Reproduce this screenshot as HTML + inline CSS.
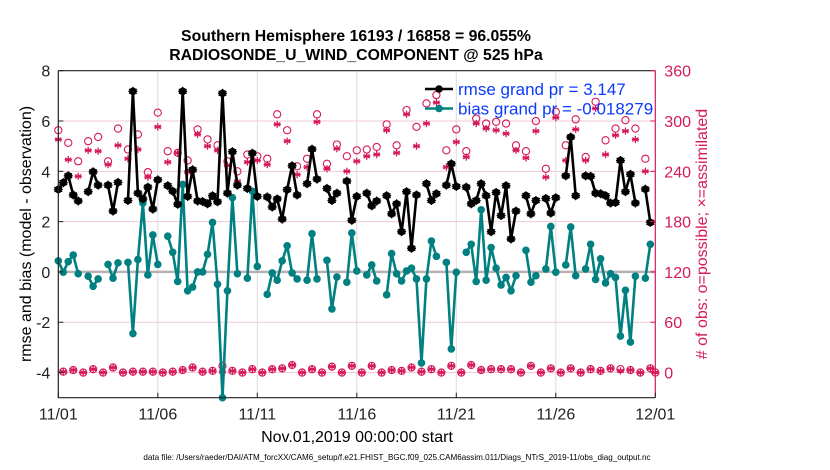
<!DOCTYPE html>
<html><head><meta charset="utf-8"><style>
html,body{margin:0;padding:0;background:#fff;}
svg{display:block;font-family:"Liberation Sans",Arial,sans-serif;}
</style></head><body>
<svg id="chart" width="830" height="470" viewBox="0 0 830 470">
<g id="grid"></g>
<g id="marks"></g>
<g id="axes"></g>
<text x="356" y="41" text-anchor="middle" font-size="15.8" font-weight="bold">Southern Hemisphere 16193 / 16858 = 96.055%</text>
<text x="356" y="60" text-anchor="middle" font-size="15.8" font-weight="bold">RADIOSONDE_U_WIND_COMPONENT @ 525 hPa</text>
<text transform="translate(31,234) rotate(-90)" text-anchor="middle" font-size="16">rmse and bias (model - observation)</text>
<text transform="translate(707,234) rotate(-90)" text-anchor="middle" font-size="16" fill="#d6195a"># of obs: o=possible; ×=assimilated</text>
<text x="357" y="442" text-anchor="middle" font-size="16">Nov.01,2019 00:00:00 start</text>
<text x="397" y="460" text-anchor="middle" font-size="8.1">data file: /Users/raeder/DAI/ATM_forcXX/CAM6_setup/f.e21.FHIST_BGC.f09_025.CAM6assim.011/Diags_NTrS_2019-11/obs_diag_output.nc</text>
<g id="legend"></g>
</svg>
<script>
const xTickLabels = ["11/01","11/06","11/11","11/16","11/21","11/26","12/01"];
const yTicks = [8,6,4,2,0,-2,-4];
const y2Ticks = [360,300,240,180,120,60,0];
const N = null;
const rmse = [3.28,3.55,3.82,3.06,2.82,N,3.19,3.98,3.45,N,3.45,2.42,3.56,N,2.84,7.18,3.13,2.9,3.37,2.5,3.66,N,3.43,3.21,2.69,7.18,3.0,4.06,2.82,2.8,2.71,3.03,2.79,7.1,3.13,4.78,3.45,N,3.32,4.72,3.0,N,2.98,2.58,2.90,2.10,3.27,4.22,3.06,N,3.51,4.88,3.69,N,3.32,2.84,3.13,N,3.61,2.05,3.0,N,3.13,2.63,2.82,N,3.03,2.31,2.71,1.6,3.19,0.94,3.06,N,3.51,2.84,3.11,N,3.45,4.30,3.40,N,3.37,2.71,2.84,3.51,3.03,1.60,3.16,2.24,3.43,1.31,2.42,N,3.03,2.31,2.84,N,2.92,2.34,2.95,N,3.82,5.36,3.03,N,3.82,3.80,3.13,3.11,3.03,2.74,2.76,4.43,3.19,3.88,2.74,N,3.29,1.97,N];
const bias = [0.44,-0.01,0.41,0.67,-0.07,N,-0.17,-0.57,-0.28,N,0.30,-0.25,0.36,N,0.38,-2.45,0.49,2.74,-0.12,1.47,0.30,N,1.42,0.78,-0.38,3.48,-0.75,-0.60,0,0,0.70,1.97,-0.49,-5.0,-0.75,2.95,-0.07,N,-0.25,3.21,0.22,N,-0.89,-0.04,-0.33,0.44,1.04,-0.04,-0.28,N,-0.33,1.52,-0.28,N,0.46,-1.47,-0.20,N,-0.41,1.55,0.04,N,-0.12,0.28,-0.36,N,-0.91,0.73,-0.07,-0.36,0.04,0.15,-0.28,-3.62,-0.28,1.23,0.62,N,0.38,-3.06,-0.01,N,0.78,1.10,-0.38,2.47,-0.33,0.97,0.15,-0.52,-0.22,-0.75,-0.15,N,0.86,-0.41,-0.15,N,0.12,1.81,-0.01,N,0.28,1.79,-0.15,N,0.12,1.10,-0.30,0.52,-0.44,-0.07,-0.22,-2.55,-0.73,-2.79,-0.17,N,-0.25,1.10,N];
const possible = [289,1,274,3,252,0,276,4,281,0,252,6,291,0,266,1,284,1,239,1,310,0,264,1,262,3,253,6,290,1,278,2,271,8,252,2,240,0,260,4,258,0,255,4,308,5,289,9,246,0,255,4,308,0,249,7,272,0,258,8,265,0,266,8,269,0,296,3,271,2,313,6,293,1,321,4,331,0,265,8,290,0,264,9,303,3,297,4,299,4,297,4,271,0,264,8,300,0,243,5,311,0,271,5,302,0,257,4,323,2,277,5,291,4,301,3,291,0,255,5,0];
const assimilated = [278,1,254,3,234,0,265,4,264,0,248,6,271,0,255,1,266,1,233,1,293,0,251,1,262,3,239,6,284,1,270,2,265,1,247,2,228,0,251,4,253,0,248,4,296,5,276,9,236,0,245,4,299,0,243,7,267,0,240,8,252,0,258,8,260,0,289,3,262,2,308,6,270,1,297,4,322,0,245,8,275,0,257,9,297,3,291,4,289,4,285,4,265,0,256,8,288,0,233,5,304,0,253,5,290,0,253,4,315,2,260,5,283,2,288,3,278,0,240,5,0];

const X0=58.3, X1=655.3, YT=70.7, YB=397.7;
const xOf = i => X0 + (X1-X0)*i/(rmse.length-1);
const xDay = d => X0 + (X1-X0)*d/30;
const yL = v => YT + (8-v)*(YB-YT)/13;
const yR = c => yL(c/30-4);
const NS="http://www.w3.org/2000/svg";
function mk(tag, attrs, parent){const e=document.createElementNS(NS,tag);for(const k in attrs)e.setAttribute(k,attrs[k]);parent.appendChild(e);return e;}
const grid=document.getElementById('grid'), marks=document.getElementById('marks'), axes=document.getElementById('axes'), legend=document.getElementById('legend');
const PINK="#d6195a";

y2Ticks.forEach(c=>{ if(c===360) return;
  const g=mk('line',{x1:X0,x2:X1,y1:yR(c),y2:yR(c),stroke:'#f0c8d6','stroke-width':1},grid);
  
  
});
xTickLabels.forEach((t,k)=>{ if(k===0||k===xTickLabels.length-1) return;
  const g=mk('line',{x1:xDay(k*5),x2:xDay(k*5),y1:YT,y2:YB,stroke:'#dcdcdc','stroke-width':1},grid);
  
  
});
const zl=mk('line',{x1:X0,x2:X1,y1:yL(0),y2:yL(0),stroke:'#b8b0b4','stroke-width':2.5},grid);



function asterisk(x,y,r,parent,color){
  const g=mk('g',{stroke:color,'stroke-width':1.3},parent);
  for(let a=0;a<3;a++){const t=Math.PI/2+a*Math.PI/3;
    mk('line',{x1:x-r*Math.cos(t),y1:y-r*Math.sin(t),x2:x+r*Math.cos(t),y2:y+r*Math.sin(t)},g);}
  mk('line',{x1:x-r,y1:y,x2:x+r,y2:y},g);
  return g;
}
possible.forEach((c,i)=>{ if(c===null) return;
  const e=mk('circle',{cx:xOf(i),cy:yR(c),r:3.6,fill:'none',stroke:PINK,'stroke-width':1.1},marks);
  
  
});
assimilated.forEach((c,i)=>{ if(c===null) return;
  const e=asterisk(xOf(i),yR(c),3.6,marks,PINK);
  
  
});

function series(vals,color,name){
  let seg=[];
  const flush=()=>{ if(seg.length>1){const p=mk('polyline',{points:seg.join(' '),fill:'none',stroke:color,'stroke-width':2.6,'stroke-linejoin':'round'},marks);
      
      } seg=[]; };
  vals.forEach((v,i)=>{ if(v===null){flush();return;} seg.push(xOf(i).toFixed(1)+','+yL(v).toFixed(1)); });
  flush();
  vals.forEach((v,i)=>{ if(v===null) return;
    const c=mk('circle',{cx:xOf(i),cy:yL(v),r:3.8,fill:color},marks);
    
    
  });
}
series(bias,'#008080','bias');
series(rmse,'#000000','rmse');
rmse.forEach((v,i)=>{ if(v===null) return; asterisk(xOf(i),yL(v),4.5,marks,'#000'); });

const box=mk('path',{d:`M${X0},${YT}H${X1}M${X0},${YT}V${YB}H${X1}`,stroke:'#222',fill:'none','stroke-width':1.2},axes);


const ra=mk('line',{x1:X1,x2:X1,y1:YT,y2:YB,stroke:PINK,'stroke-width':1.2},axes);


yTicks.forEach(v=>{
  mk('line',{x1:X0,x2:X0+5,y1:yL(v),y2:yL(v),stroke:'#222'},axes);
  const t=mk('text',{x:X0-8,y:yL(v)+6,'text-anchor':'end','font-size':16,fill:'#222'},axes);
  t.textContent=v;
  
  
});
y2Ticks.forEach(c=>{
  mk('line',{x1:X1-5,x2:X1,y1:yR(c),y2:yR(c),stroke:PINK},axes);
  const t=mk('text',{x:X1+9,y:yR(c)+6,'text-anchor':'start','font-size':16,fill:PINK},axes);
  t.textContent=c;
  
  
});
xTickLabels.forEach((lab,k)=>{
  mk('line',{x1:xDay(k*5),x2:xDay(k*5),y1:YB,y2:YB-5,stroke:'#222'},axes);
  const t=mk('text',{x:xDay(k*5),y:YB+22,'text-anchor':'middle','font-size':16,fill:'#222'},axes);
  t.textContent=lab;
  
  
});

const legItems=[['rmse grand pr = 3.147','#000'],['bias grand pr = -0.018279','#008080']];
legItems.forEach((it,k)=>{
  const y=89+k*19.5;
  const g=mk('g',{},legend);
  
  
  mk('line',{x1:425,x2:453,y1:y,y2:y,stroke:it[1],'stroke-width':2.6},g);
  mk('circle',{cx:439,cy:y,r:3.8,fill:it[1]},g);
  const t=mk('text',{x:458,y:y+6,'font-size':17,fill:'#0a3cff'},g);
  t.textContent=it[0];
});
</script>
</body></html>
